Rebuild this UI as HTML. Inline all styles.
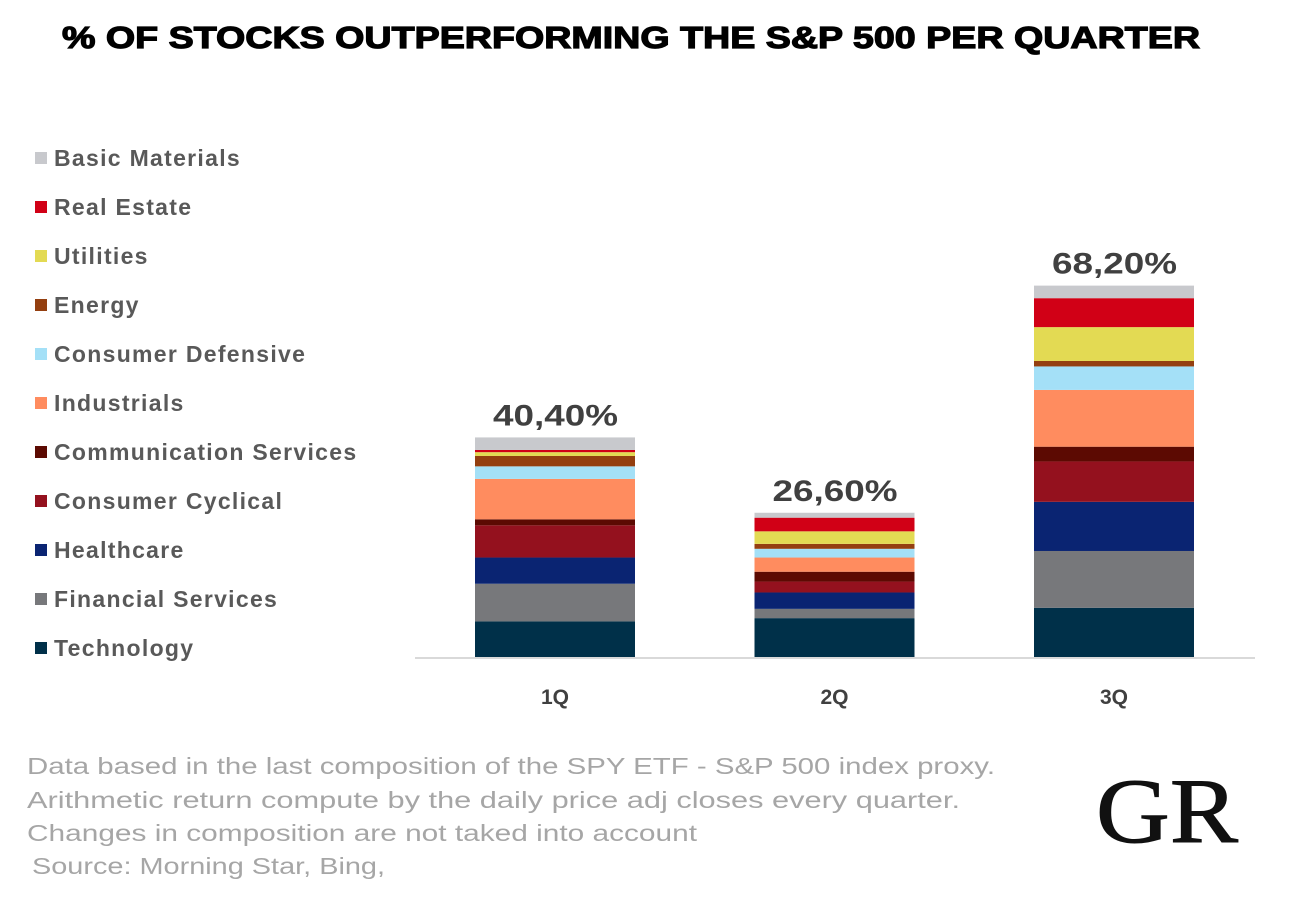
<!DOCTYPE html>
<html><head><meta charset="utf-8"><style>
html,body{margin:0;padding:0;background:#fff;}
svg{display:block;font-family:"Liberation Sans",Arial,sans-serif;}
</style></head><body>
<svg id="chart" width="1292" height="903" viewBox="0 0 1292 903">
<text x="62" y="48" font-size="31" font-weight="bold" fill="#000" stroke="#000" stroke-width="1.2" textLength="1138" lengthAdjust="spacingAndGlyphs">% OF STOCKS OUTPERFORMING THE S&amp;P 500 PER QUARTER</text>
<g id="legend"></g>
<g id="bars"></g>
<line x1="415" y1="658" x2="1255" y2="658" stroke="#d9d9d9" stroke-width="2"/>
<g id="xlabels"></g>
<g fill="#a6a6a6" font-size="23">
<text x="27" y="774" textLength="968" lengthAdjust="spacingAndGlyphs">Data based in the last composition of the SPY ETF - S&amp;P 500 index proxy.</text>
<text x="27" y="808" textLength="933" lengthAdjust="spacingAndGlyphs">Arithmetic return compute by  the daily price adj closes  every quarter.</text>
<text x="27" y="841" textLength="670" lengthAdjust="spacingAndGlyphs">Changes in composition are not taked into account</text>
<text x="32" y="874" textLength="353" lengthAdjust="spacingAndGlyphs">Source: Morning Star, Bing,</text>
</g>
<text x="1096" y="842" font-family="'Liberation Serif',serif" font-size="92" fill="#111" stroke="#111" stroke-width="1" textLength="142" lengthAdjust="spacingAndGlyphs">GR</text>
</svg>
<script>
const categories = ["1Q","2Q","3Q"];
const sectors = ["Technology","Financial Services","Healthcare","Consumer Cyclical","Communication Services","Industrials","Consumer Defensive","Energy","Utilities","Real Estate","Basic Materials"];
const colors = ["#003049","#77787b","#0a2472","#94111e","#5c0a02","#ff8c5f","#a4e0f7","#943f10","#e3da53","#d10016","#c8c9cd"];
const tech = [6.7,7.3,9.2];
const financial = [6.9,1.7,10.4];
const healthcare = [4.8,3.0,9.0];
const cyclical = [5.9,2.0,7.4];
const communication = [1.1,1.8,2.7];
const industrials = [7.4,2.6,10.4];
const defensive = [2.3,1.6,4.3];
const energy = [1.9,0.9,1.0];
const utilities = [0.7,2.3,6.2];
const realEstate = [0.4,2.5,5.3];
const materials = [2.3,0.9,2.3];
const totals = ["40,40%","26,60%","68,20%"];
const series = [tech,financial,healthcare,cyclical,communication,industrials,defensive,energy,utilities,realEstate,materials];

const NS="http://www.w3.org/2000/svg";
const base=658, pxPer=5.46, bw=160, x0=475, step=279.5;
const yS=v=>base-v*pxPer;
const xS=i=>x0+i*step;
function mk(t,a){const e=document.createElementNS(NS,t);for(const k in a)e.setAttribute(k,a[k]);return e;}
const bars=document.getElementById('bars');
categories.forEach((c,i)=>{
  let cum=0;
  series.forEach((s,j)=>{
    const r=mk('rect',{x:xS(i),y:yS(cum+s[i]),width:bw,height:s[i]*pxPer,fill:colors[j]});
    
    
    bars.appendChild(r);cum+=s[i];
  });
  const t=mk('text',{x:xS(i)+bw/2-62,y:yS(cum)-12,'font-size':'30','font-weight':'bold',fill:'#404040',textLength:'125',lengthAdjust:'spacingAndGlyphs'});
  
  
  t.textContent=totals[i];bars.appendChild(t);
  const l=mk('text',{x:xS(i)+bw/2,y:704,'text-anchor':'middle','font-size':'21','font-weight':'bold',fill:'#404040'});
  
  
  l.textContent=c;document.getElementById('xlabels').appendChild(l);
});
const lg=document.getElementById('legend');
for(let j=sectors.length-1;j>=0;j--){
  const k=sectors.length-1-j, y=158+k*49;
  const g=mk('g',{});
  
  
  g.appendChild(mk('rect',{x:35,y:y-6,width:12,height:12,fill:colors[j]}));
  const t=mk('text',{x:54,y:y+8,'font-size':'23','font-weight':'bold',fill:'#595959','letter-spacing':'1.3'});
  t.textContent=sectors[j];g.appendChild(t);lg.appendChild(g);
}
</script>
</body></html>
